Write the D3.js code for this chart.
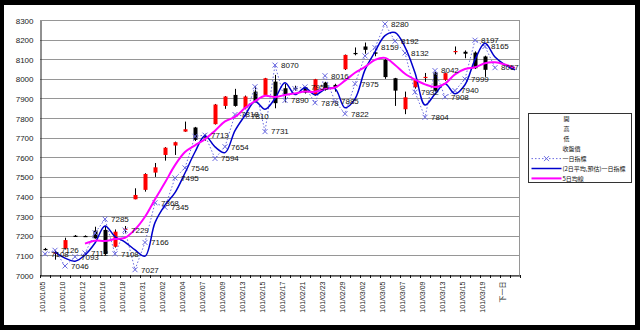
<!DOCTYPE html>
<html>
<head>
<meta charset="utf-8">
<script src="https://cdn.jsdelivr.net/npm/d3@7"></script>
<style>
  html, body { margin: 0; padding: 0; background: #000; }
  svg { display: block; }
</style>
</head>
<body>
<svg id="chart" width="640" height="330"></svg>
<script>
// Trading days (ROC calendar); the last categories carry the forecast
const dates = [
  "101/01/05","101/01/09","101/01/10","101/01/11","101/01/12","101/01/13","101/01/16","101/01/17",
  "101/01/18","101/01/30","101/01/31","101/02/01","101/02/02","101/02/03","101/02/04","101/02/06",
  "101/02/07","101/02/08","101/02/09","101/02/10","101/02/13","101/02/14","101/02/15","101/02/16",
  "101/02/17","101/02/20","101/02/21","101/02/22","101/02/23","101/02/24","101/02/29","101/03/01",
  "101/03/02","101/03/03","101/03/05","101/03/06","101/03/07","101/03/08","101/03/09","101/03/12",
  "101/03/13","101/03/14","101/03/15","101/03/16","101/03/19","101/03/20","下一日",""
];

// Daily OHLC
const opens  = [7133,7112,7135,7200,7199,7226,7230,7144,7232,7386,7434,7522,7612,7660,7731,7752,
                7706,7769,7862,7918,7850,7935,7918,7986,7952,7953,7957,7918,7981,7969,8049,8132,
                8165,8135,8097,8003,7845,7957,8005,8032,7995,8140,8138,8134,8114];
const highs  = [7138,7125,7190,7204,7202,7246,7250,7232,7250,7442,7519,7571,7652,7680,7782,7755,
                7720,7872,7912,7949,7915,7964,8005,8020,7975,7965,7960,8000,7985,7975,8124,8160,
                8185,8150,8100,8005,7935,8000,8030,8035,8032,8165,8145,8140,8118];
const lows   = [7125,7078,7130,7196,7194,7185,7100,7140,7215,7386,7425,7500,7583,7612,7730,7683,
                7685,7767,7847,7858,7845,7880,7915,7850,7880,7940,7925,7915,7940,7935,8045,8120,
                8128,8115,8000,7862,7820,7950,7985,7935,7990,8125,8105,8050,8010];
const closes = [7130,7115,7178,7199,7197,7187,7107,7221,7236,7408,7515,7549,7649,7677,7743,7689,
                7702,7869,7910,7862,7910,7884,8003,7876,7918,7950,7930,7998,7947,7957,8122,8130,
                8148,8128,8009,7940,7906,7995,8010,7940,8029,8142,8128,8054,8046];

// 一日指標
const dayIndex = [7108,7126,7046,7093,7112,7214,7285,7108,7229,7027,7166,7368,7345,7495,7546,7707,
                  7713,7594,7654,7818,7810,7960,7731,8070,7890,7950,7959,7878,8016,7885,7822,7975,
                  8117,8159,8280,8192,8132,7932,7804,8042,7908,7940,7999,8197,8165,8057];
const dayIndexHiddenLabels = [5, 15, 21, 25, 32];

// (2日平均,預估)一日指標
const avgIndex = [null,7117,7086,7070,7102,7163,7250,7196,7168,7128,7096,7267,7356,7420,7520,7627,
                  7710,7653,7624,7736,7814,7885,7845,7900,7980,7920,7955,7918,7947,7950,7853,7898,
                  8046,8138,8220,8236,8162,8031,7867,7923,7975,7924,7970,8098,8181,8111,8071,8046];

// 5日均線
const ma5 = [null,null,null,null,7160,7175,7173,7183,7190,7232,7297,7386,7471,7560,7627,7661,
             7692,7736,7783,7806,7851,7887,7914,7907,7918,7926,7935,7934,7949,7956,7991,8031,
             8061,8097,8107,8071,8026,7996,7972,7958,7976,8023,8050,8059,8080,8084,8073,8056];

const yTicks = [7000,7100,7200,7300,7400,7500,7600,7700,7800,7900,8000,8100,8200,8300];

const legendNames = ["開","高","低","收盤價","一日指標","(2日平均,預估)一日指標","5日均線"];

const svg = d3.select("#chart");
const W = 640, H = 330;
const plot = { left: 40, right: 520, top: 20, bottom: 275 };

// outer black frame with white sheet
svg.append("rect").attr("width", W).attr("height", H).attr("fill", "#000");
svg.append("rect").attr("x", 4).attr("y", 5).attr("width", 631).attr("height", 320).attr("fill", "#fff");

const x = d3.scaleBand().domain(d3.range(dates.length)).range([plot.left, plot.right]);
const y = d3.scaleLinear().domain([yTicks[0], yTicks[yTicks.length - 1]]).range([plot.bottom, plot.top]);
const cx = i => x(i) + x.bandwidth() / 2;

// horizontal gridlines
svg.append("g").selectAll("line").data(yTicks).join("line")
  .attr("x1", plot.left).attr("x2", plot.right - 0.5)
  .attr("y1", d => Math.round(y(d)) + 0.5).attr("y2", d => Math.round(y(d)) + 0.5)
  .attr("stroke", "#969696").attr("stroke-width", 1);

// right border of the plot area
svg.append("line")
  .attr("x1", plot.right - 0.5).attr("x2", plot.right - 0.5)
  .attr("y1", y(yTicks[yTicks.length - 1])).attr("y2", plot.bottom)
  .attr("stroke", "#969696");

// y axis
const yAxis = svg.append("g")
  .attr("transform", `translate(${plot.left + 0.5},0.5)`)
  .call(d3.axisLeft(y).tickValues(yTicks).tickSize(0).tickPadding(7).tickFormat(d3.format("d")));
yAxis.select(".domain").attr("stroke", "#222");
yAxis.selectAll("text")
  .attr("font-family", "Liberation Sans, Arial, sans-serif")
  .attr("font-size", 8).attr("fill", "#222");

// x axis with rotated date labels on every second category
const xAxis = svg.append("g")
  .attr("transform", `translate(0,${plot.bottom + 0.5})`)
  .call(d3.axisBottom(x).tickSize(0).tickFormat(i => (i % 2 === 0 ? dates[i] : "")));
xAxis.select(".domain").attr("stroke", "#111");
xAxis.selectAll("text")
  .attr("font-family", "Liberation Sans, Noto Sans CJK TC, Arial, sans-serif")
  .attr("font-size", 7).attr("fill", "#222")
  .attr("transform", "rotate(-90)")
  .attr("text-anchor", "end")
  .attr("x", -6).attr("y", 0).attr("dy", "0.05em");

// tick marks at category boundaries
svg.append("g").selectAll("line").data(d3.range(dates.length + 1)).join("line")
  .attr("x1", i => Math.round(plot.left + i * x.step()) + 0.5)
  .attr("x2", i => Math.round(plot.left + i * x.step()) + 0.5)
  .attr("y1", plot.bottom).attr("y2", plot.bottom + 3)
  .attr("stroke", "#111");

// candlesticks
const candles = svg.append("g");
const bodyW = 4;
opens.forEach((o, i) => {
  const c = closes[i];
  candles.append("line")
    .attr("x1", Math.round(cx(i)) + 0.5).attr("x2", Math.round(cx(i)) + 0.5)
    .attr("y1", y(highs[i])).attr("y2", y(lows[i]))
    .attr("stroke", "#000").attr("stroke-width", 1);
  const top = y(Math.max(o, c)), bot = y(Math.min(o, c));
  candles.append("rect")
    .attr("x", Math.round(cx(i)) + 0.5 - bodyW / 2)
    .attr("y", top)
    .attr("width", bodyW)
    .attr("height", Math.max(1.2, bot - top))
    .attr("fill", c > o ? "#ff0000" : "#000");
});

// 一日指標: dotted line with x markers
const dayColor = "#6a6ae0";
const dayPts = dayIndex.map((v, i) => [cx(i), y(v)]);
svg.append("path")
  .attr("d", d3.line()(dayPts))
  .attr("fill", "none").attr("stroke", dayColor)
  .attr("stroke-width", 1).attr("stroke-dasharray", "1.5,2");
svg.append("g").selectAll("path").data(dayPts).join("path")
  .attr("transform", d => `translate(${d[0]},${d[1]})`)
  .attr("d", "M-2.5,-2.5L2.5,2.5M-2.5,2.5L2.5,-2.5")
  .attr("stroke", dayColor).attr("stroke-width", 1).attr("fill", "none");

// smoothed average of the index
const smooth = d3.line()
  .defined(d => d[1] != null)
  .x(d => cx(d[0])).y(d => y(d[1]))
  .curve(d3.curveCatmullRom.alpha(0.5));
svg.append("path")
  .attr("d", smooth(avgIndex.map((v, i) => [i, v])))
  .attr("fill", "none").attr("stroke", "#0000cc").attr("stroke-width", 1.5);

// 5-day moving average
svg.append("path")
  .attr("d", smooth(ma5.map((v, i) => [i, v])))
  .attr("fill", "none").attr("stroke", "#ff00ff").attr("stroke-width", 2);

// value labels of 一日指標
svg.append("g").selectAll("text")
  .data(dayIndex.map((v, i) => ({ v, i })).filter(d => !dayIndexHiddenLabels.includes(d.i)))
  .join("text")
  .attr("x", d => cx(d.i) + 6).attr("y", d => y(d.v)).attr("dy", "0.35em")
  .attr("font-family", "Liberation Sans, Arial, sans-serif")
  .attr("font-size", 8).attr("fill", "#111")
  .text(d => d.v);

// legend
const lg = svg.append("g").attr("transform", "translate(528.5,113.5)");
lg.append("rect").attr("width", 103).attr("height", 69)
  .attr("fill", "#fff").attr("stroke", "#333").attr("stroke-width", 1);
const rowY = i => 5.5 + i * 9.9;
legendNames.forEach((name, i) => {
  lg.append("text")
    .attr("x", i >= 3 ? 34 : 35).attr("y", rowY(i)).attr("dy", "0.35em")
    .attr("font-family", "Noto Sans CJK TC, sans-serif")
    .attr("font-size", 6).attr("fill", "#111")
    .text(name);
});
// legend symbols
lg.append("line").attr("x1", 3).attr("x2", 33).attr("y1", rowY(4)).attr("y2", rowY(4))
  .attr("stroke", dayColor).attr("stroke-dasharray", "1.5,2");
lg.append("path").attr("transform", `translate(18,${rowY(4)})`)
  .attr("d", "M-2.5,-2.5L2.5,2.5M-2.5,2.5L2.5,-2.5").attr("stroke", dayColor);
lg.append("line").attr("x1", 3).attr("x2", 33).attr("y1", rowY(5)).attr("y2", rowY(5))
  .attr("stroke", "#0000cc").attr("stroke-width", 1.5);
lg.append("line").attr("x1", 3).attr("x2", 33).attr("y1", rowY(6)).attr("y2", rowY(6))
  .attr("stroke", "#ff00ff").attr("stroke-width", 2);
</script>
</body>
</html>
